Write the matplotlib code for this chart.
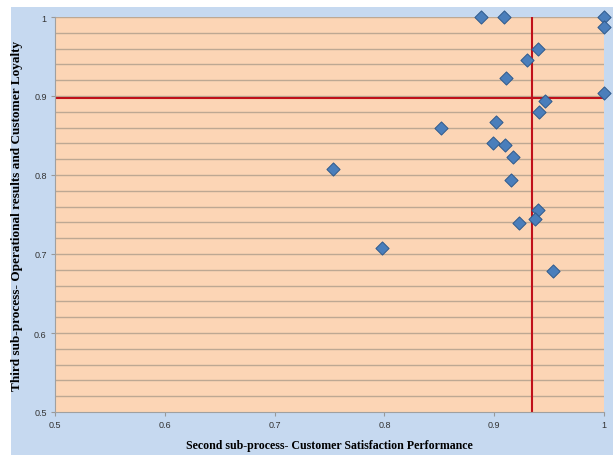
import matplotlib
matplotlib.use("Agg")
import matplotlib.pyplot as plt
from matplotlib.patches import Rectangle
import numpy as np

# Data
satisfaction = [0.888, 0.9087, 1.0, 1.0, 0.9396, 0.930, 0.9108, 1.0, 0.946, 0.941,
                0.902, 0.852, 0.899, 0.9095, 0.917, 0.7529, 0.9153, 0.940, 0.9375,
                0.9226, 0.7978, 0.9536]
loyalty = [1.0, 1.0, 1.0, 0.987, 0.9595, 0.945, 0.9228, 0.9034, 0.894, 0.880,
           0.8667, 0.860, 0.840, 0.8384, 0.8224, 0.808, 0.794, 0.756, 0.744,
           0.739, 0.7072, 0.678]
x_threshold = 0.9347
y_threshold = 0.897
x_ticks = [0.5, 0.6, 0.7, 0.8, 0.9, 1.0]
x_ticklabels = ["0.5", "0.6", "0.7", "0.8", "0.9", "1"]
y_ticks = [0.5, 0.6, 0.7, 0.8, 0.9, 1.0]
y_ticklabels = ["0.5", "0.6", "0.7", "0.8", "0.9", "1"]
x_label = "Second sub-process- Customer Satisfaction Performance"
y_label = "Third sub-process- Operational results and Customer Loyalty"

fig = plt.figure(figsize=(6.13, 4.56), dpi=100, facecolor="white")
fig.patches.append(Rectangle((11/613, 0), 1 - 11/613, 1 - 8/456, transform=fig.transFigure,
                             facecolor="#c6d9f0", edgecolor="none", zorder=-10))

ax = fig.add_axes([55/613, 1 - 413/456, (604 - 55)/613, (413 - 18)/456])
ax.set_facecolor("#fcd5b5")
ax.set_xlim(0.5, 1.0)
ax.set_ylim(0.5, 1.0)

for yv in np.arange(0.52, 1.001, 0.02):
    ax.axhline(yv, color="#bda893", linewidth=1.0, zorder=1)

ax.axhline(y_threshold, color="#c0101a", linewidth=1.5, zorder=2)
ax.axvline(x_threshold, color="#c0101a", linewidth=1.5, zorder=2)

ax.scatter(satisfaction, loyalty, marker="D", s=45, facecolor="#4a7ebb",
           edgecolor="#2f5a8c", linewidth=0.7, zorder=3, clip_on=False)

ax.set_xticks(x_ticks)
ax.set_xticklabels(x_ticklabels, fontsize=6.5, family="Liberation Sans", color="#333333")
ax.set_yticks(y_ticks)
ax.set_yticklabels(y_ticklabels, fontsize=6.5, family="Liberation Sans", color="#333333")
ax.tick_params(axis="both", length=3, color="#999999", pad=3)

for s in ["top", "right"]:
    ax.spines[s].set_visible(False)
for s in ["left", "bottom"]:
    ax.spines[s].set_color("#a0a0a0")
    ax.spines[s].set_linewidth(0.8)

ax.set_xlabel(x_label, fontsize=8.6, fontweight="bold", family="Liberation Serif", labelpad=7)
ax.set_ylabel(y_label, fontsize=9.5, fontweight="bold", family="Liberation Serif", labelpad=8)

fig.savefig("out.png", dpi=100)
